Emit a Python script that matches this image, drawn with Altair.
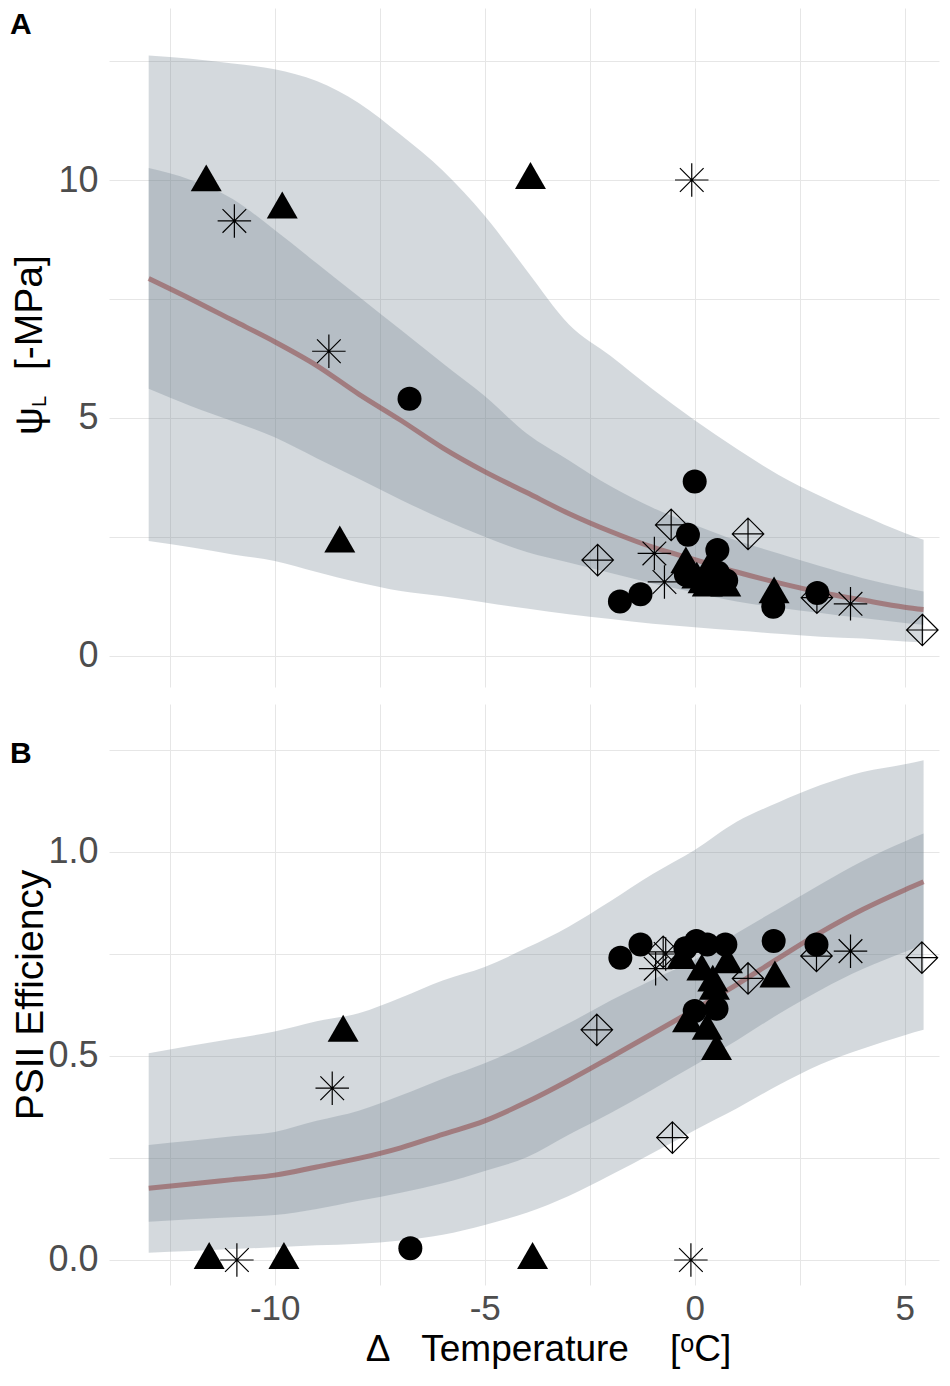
import altair as alt
import pandas as pd

FONT = "Liberation Sans"
GRID = "#e6e6e6"
SLATE = "#708090"
LINE = "#8b3a3a"
NB = "\u00a0"

# ---- model curves (x grid shared) ----
xs = [-13, -12, -11, -10, -9, -8, -7, -6, -5, -4, -3, -2, -1, 0, 1, 2, 3, 4, 5, 5.45]

a_hi95 = [12.62, 12.55, 12.45, 12.33, 12.08, 11.62, 10.95, 10.20, 9.25, 8.10, 6.97, 6.30, 5.60, 4.95, 4.35, 3.80, 3.35, 2.95, 2.58, 2.44]
a_hi50 = [10.25, 10.00, 9.60, 8.95, 8.25, 7.55, 6.85, 6.15, 5.46, 4.67, 4.11, 3.56, 3.11, 2.75, 2.42, 2.15, 1.88, 1.63, 1.43, 1.35]
a_mid = [7.93, 7.50, 7.05, 6.60, 6.10, 5.50, 4.95, 4.37, 3.87, 3.43, 2.99, 2.61, 2.28, 2.02, 1.76, 1.53, 1.33, 1.17, 1.02, 0.97]
a_lo50 = [5.61, 5.25, 4.93, 4.59, 4.15, 3.72, 3.28, 2.87, 2.50, 2.18, 1.96, 1.74, 1.52, 1.33, 1.14, 1.01, 0.90, 0.79, 0.69, 0.65]
a_lo95 = [2.41, 2.28, 2.13, 1.99, 1.76, 1.54, 1.36, 1.25, 1.12, 0.99, 0.87, 0.77, 0.67, 0.60, 0.53, 0.46, 0.40, 0.36, 0.30, 0.28]

b_hi95 = [0.507, 0.525, 0.542, 0.560, 0.585, 0.605, 0.643, 0.685, 0.718, 0.765, 0.817, 0.880, 0.946, 1.005, 1.074, 1.122, 1.164, 1.196, 1.215, 1.225]
b_hi50 = [0.282, 0.292, 0.303, 0.314, 0.341, 0.366, 0.403, 0.444, 0.482, 0.528, 0.580, 0.636, 0.687, 0.736, 0.801, 0.861, 0.921, 0.978, 1.026, 1.045]
b_mid = [0.176, 0.186, 0.197, 0.208, 0.228, 0.249, 0.275, 0.308, 0.341, 0.387, 0.440, 0.497, 0.555, 0.614, 0.675, 0.740, 0.803, 0.859, 0.907, 0.927]
b_lo50 = [0.094, 0.100, 0.105, 0.110, 0.125, 0.145, 0.165, 0.188, 0.218, 0.252, 0.307, 0.360, 0.418, 0.477, 0.538, 0.603, 0.662, 0.713, 0.755, 0.773]
b_lo95 = [0.018, 0.022, 0.027, 0.031, 0.036, 0.040, 0.048, 0.062, 0.086, 0.116, 0.157, 0.208, 0.262, 0.318, 0.371, 0.429, 0.480, 0.518, 0.551, 0.564]

# ---- observations, panel A (leaf water potential) ----
a_circle_x = [-6.79, 0.00, -1.78, -1.29, -0.16, 0.54, -0.21, 0.55, 0.75, 1.87, 2.92]
a_circle_y = [5.40, 3.66, 1.14, 1.29, 2.54, 2.22, 1.70, 1.75, 1.58, 1.03, 1.32]
a_tri_x = [-11.63, -9.82, -8.45, -3.91, -0.21, 0.30, 0.74, 0.05, 0.40, 0.60, 0.20, 0.45, 1.89]
a_tri_y = [9.95, 9.38, 2.36, 10.00, 1.92, 1.43, 1.43, 1.60, 1.90, 1.50, 1.50, 1.70, 1.29]
a_star_x = [-10.96, -8.71, -0.07, -0.96, -0.72, 3.71]
a_star_y = [9.14, 6.40, 10.00, 2.15, 1.55, 1.09]
a_dia_x = [-2.31, -0.56, 1.27, 2.91, 5.42]
a_dia_y = [2.01, 2.75, 2.56, 1.22, 0.54]

# ---- observations, panel B (PSII efficiency) ----
b_circle_x = [-6.77, -1.77, -1.29, -0.22, 0.04, 0.30, 0.73, 1.88, 2.90, 0.00, 0.52]
b_circle_y = [0.029, 0.741, 0.773, 0.764, 0.782, 0.773, 0.773, 0.782, 0.773, 0.610, 0.616]
b_tri_x = [-11.56, -9.78, -3.86, -8.37, -0.30, 0.17, 0.43, 0.47, 0.78, 1.91, -0.17, 0.30, 0.52]
b_tri_y = [0.0, 0.0, 0.0, 0.557, 0.735, 0.707, 0.680, 0.660, 0.725, 0.690, 0.580, 0.562, 0.512]
b_star_x = [-10.90, -8.63, -0.09, -0.69, -0.93, 3.71]
b_star_y = [0.0, 0.421, 0.0, 0.750, 0.714, 0.757]
b_dia_x = [-2.33, -0.53, 1.27, 2.90, 5.41, -0.75]
b_dia_y = [0.564, 0.300, 0.690, 0.745, 0.741, 0.755]

x_grid = [-12.5, -10, -7.5, -5, -2.5, 0, 2.5, 5]
a_grid = [0, 2.5, 5, 7.5, 10, 12.5]
b_grid = [0, 0.25, 0.5, 0.75, 1.0, 1.25]

X_DOMAIN = [-13.945, 5.817]
A_DOMAIN = [-0.658, 13.616]
B_DOMAIN = [-0.0613, 1.3627]
W, HA, HB = 830, 679, 581

TRI = "M0,-1.155L1,0.577L-1,0.577Z"
DIA = "M0,-1L1,0L0,1L-1,0Z M0,-1L0,1 M-1,0L1,0"
AST = "M-1,0L1,0 M0,-1L0,1 M-0.707,-0.707L0.707,0.707 M-0.707,0.707L0.707,-0.707"

X_TITLE = "Δ" + NB * 3 + "Temperature" + NB * 4 + "[ᵒC]"


def band_df(hi95, hi50, mid, lo50, lo95):
    return pd.DataFrame({"x": xs, "hi95": hi95, "hi50": hi50, "mid": mid,
                         "lo50": lo50, "lo95": lo95})


def pts_df(groups):
    rows = []
    for kind, gx, gy in groups:
        for vx, vy in zip(gx, gy):
            rows.append({"x": vx, "y": vy, "kind": kind})
    return pd.DataFrame(rows)


band_a = band_df(a_hi95, a_hi50, a_mid, a_lo50, a_lo95)
band_b = band_df(b_hi95, b_hi50, b_mid, b_lo50, b_lo95)
pts_a = pts_df([("circle", a_circle_x, a_circle_y), ("tri", a_tri_x, a_tri_y),
                ("star", a_star_x, a_star_y), ("dia", a_dia_x, a_dia_y)])
pts_b = pts_df([("circle", b_circle_x, b_circle_y), ("tri", b_tri_x, b_tri_y),
                ("star", b_star_x, b_star_y), ("dia", b_dia_x, b_dia_y)])

common_axis = dict(ticks=False, tickSize=0, domain=False, grid=True, gridColor=GRID,
                   gridWidth=1, labelFont=FONT, labelColor="#4d4d4d",
                   labelOverlap=False, labelFlush=False, titleFont=FONT,
                   titleColor="black", titleFontWeight="normal")

x_axis_a = alt.Axis(values=x_grid, labels=False, title=None, minExtent=0, maxExtent=0,
                    **common_axis)
x_axis_b = alt.Axis(values=x_grid,
                    labelExpr="datum.value % 5 == 0 ? toString(datum.value) : ''",
                    labelFontSize=35, labelPadding=6, title=X_TITLE, titleFontSize=37,
                    titlePadding=16, minExtent=30, maxExtent=30, titleX=439,
                    **common_axis)
y_axis_a = alt.Axis(values=a_grid,
                    labelExpr="datum.value % 5 == 0 ? toString(datum.value) : ''",
                    labelFontSize=36, labelPadding=11, title=None, minExtent=60,
                    maxExtent=60, **common_axis)
y_axis_b = alt.Axis(values=b_grid,
                    labelExpr="(datum.value * 2) % 1 == 0 ? format(datum.value, '.1f') : ''",
                    labelFontSize=36, labelPadding=11, title="PSII Efficiency",
                    titleFontSize=39, titlePadding=-1, minExtent=60, maxExtent=60,
                    **common_axis)


def text_layer(txt, x, y, size, angle=0, bold=False):
    return alt.Chart(alt.Data(values=[{}])).mark_text(
        text=txt, font=FONT, fontSize=size, angle=angle, align="left",
        baseline="alphabetic", color="black",
        fontWeight="bold" if bold else "normal",
    ).encode(x=alt.value(x), y=alt.value(y))


def panel(band, pts, xax, yax, ydom, h, extra):
    xsc = alt.Scale(domain=X_DOMAIN, nice=False, zero=False)
    ysc = alt.Scale(domain=ydom, nice=False, zero=False)
    X = alt.X("x:Q", scale=xsc, axis=xax)
    base = alt.Chart(band)
    outer = base.mark_area(color=SLATE, opacity=0.3, interpolate="monotone").encode(
        x=X, y=alt.Y("lo95:Q", scale=ysc, axis=yax), y2="hi95:Q")
    inner = base.mark_area(color=SLATE, opacity=0.3, interpolate="monotone").encode(
        x=X, y=alt.Y("lo50:Q", scale=ysc, axis=yax), y2="hi50:Q")
    line = base.mark_line(color=LINE, opacity=0.5, strokeWidth=5,
                          interpolate="monotone").encode(
        x=X, y=alt.Y("mid:Q", scale=ysc, axis=yax))
    P = alt.Chart(pts)
    Y = alt.Y("y:Q", scale=ysc, axis=yax)

    def pt(kind, **kw):
        return P.transform_filter(alt.datum.kind == kind).mark_point(
            opacity=1, color="black", **kw).encode(x=X, y=Y)

    dia = pt("dia", shape=DIA, size=992, filled=False, strokeWidth=1.2)
    star = pt("star", shape=AST, size=1122, filled=False, strokeWidth=1.2)
    cir = pt("circle", shape="circle", size=576, filled=True, strokeWidth=0)
    tri = pt("tri", shape=TRI, size=961, filled=True, strokeWidth=0)
    return alt.layer(outer, inner, line, dia, star, cir, tri, *extra).properties(
        width=W, height=h)


top = panel(band_a, pts_a, x_axis_a, y_axis_a, A_DOMAIN, HA, [
    text_layer("A", -99, 26, 30, bold=True),
    text_layer("ψ", -67, 427, 39, angle=270),
    text_layer("L", -63, 399, 20, angle=270),
    text_layer("[-MPa]", -67, 362, 39, angle=270),
])
bottom = panel(band_b, pts_b, x_axis_b, y_axis_b, B_DOMAIN, HB, [
    text_layer("B", -99, 59, 30, bold=True),
])

chart = alt.vconcat(top, bottom, spacing=17).properties(
    padding={"left": 2, "right": 0, "top": 0, "bottom": 4}
).configure_view(stroke=None)

chart.save("out.html", embed_options={"renderer": "svg", "actions": False})
